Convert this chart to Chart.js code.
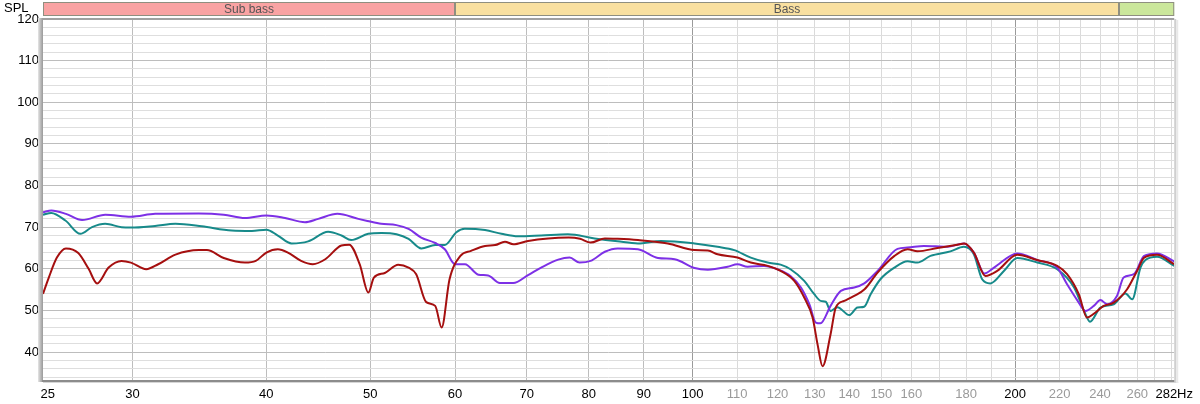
<!DOCTYPE html>
<html>
<head>
<meta charset="utf-8">
<script src="https://cdn.jsdelivr.net/npm/chart.js@4.4.1/dist/chart.umd.min.js"></script>
<style>
html,body{margin:0;padding:0;background:#fff;}
canvas{display:block;}
</style>
</head>
<body>
<canvas id="c" width="1200" height="404"></canvas>
<script>
// ---------- DATA ----------
const freqRed = [24.75,25.06,25.5,26.0,26.7,27.3,27.8,28.5,29.3,29.9,30.9,31.7,32.9,34.6,35.2,36.5,38.2,39.1,40.0,41.0,41.9,43.1,44.2,45.4,47.0,47.8,48.9,49.8,50.4,51.6,53.1,54.3,55.2,56.4,57.5,58.3,59.3,60.7,62.1,64.0,65.4,66.8,68.0,70.2,73.3,76.6,78.5,80.3,82.8,85.1,88.9,94.8,100.4,103.3,105.5,110.1,113.3,117.5,120.8,124.4,127.1,129.4,130.8,132.2,134.5,136.0,138.5,141.5,144.7,148.8,154.3,158.7,162.1,169.2,176.6,179.3,183.0,187.6,192.4,200.9,209.7,218.9,223.6,229.3,233.4,236.8,241.9,247.2,254.4,259.9,263.9,271.3,281.5];
const splRed  = [54.0,57.9,62.7,64.9,63.8,60.0,56.5,60.3,61.9,61.5,59.9,61.1,63.4,64.5,64.5,62.6,61.5,61.9,63.9,64.7,63.9,61.9,61.1,62.3,65.6,65.8,61.0,54.3,57.9,59.0,61.0,60.3,58.7,52.0,51.1,45.9,57.5,63.1,64.3,65.5,65.7,66.5,65.9,66.7,67.3,67.5,67.2,66.3,67.3,67.2,66.9,66.1,64.5,64.4,63.5,62.7,61.5,60.7,59.5,57.1,53.1,48.3,41.8,36.6,44.3,50.7,52.3,53.5,55.1,59.1,63.1,64.7,64.2,65.0,65.8,66.1,63.9,58.3,59.5,63.4,62.1,60.7,58.7,53.9,48.3,49.2,51.1,51.9,55.1,59.5,62.7,63.4,61.1];

const freqTeal = [24.75,25.19,25.97,26.82,27.5,28.29,29.3,29.9,31.49,32.9,34.82,37.13,38.77,40.0,41.0,42.23,43.76,45.68,47.01,48.0,49.79,51.24,52.91,54.3,55.81,57.5,58.68,60.18,61.27,64.0,66.3,68.7,72.2,76.47,81.0,85.1,88.9,93.42,100.4,105.5,109.36,113.3,117.5,120.8,123.4,127.1,129.86,131.69,133.1,134.53,136.49,140.0,142.5,144.56,146.6,149.7,154.3,158.7,162.1,166.7,174.0,179.1,183.0,186.3,189.6,195.2,200.9,209.7,218.9,227.0,231.9,234.9,240.2,247.2,253.5,257.2,261.8,264.6,271.3,281.5];
const splTeal  = [73.0,73.4,71.6,68.4,70.0,70.8,70.0,69.9,70.3,70.8,70.2,69.2,69.1,69.4,68.0,66.1,66.6,68.9,68.0,66.9,68.4,68.6,68.3,67.2,64.9,65.7,65.7,68.8,69.6,69.3,68.4,67.8,68.0,68.3,67.3,66.6,66.1,66.7,66.1,65.3,64.5,62.7,61.5,61.0,59.9,57.1,53.9,52.3,52.1,49.9,50.8,48.9,50.7,50.9,53.9,57.5,60.3,61.8,61.5,63.1,64.2,65.3,63.5,57.5,56.5,59.5,62.6,61.5,59.9,55.5,49.9,47.3,50.7,51.5,54.1,52.7,60.3,62.1,62.9,60.7];

const freqPurple = [24.75,25.2,26.0,26.92,28.3,29.9,31.5,34.6,36.5,38.2,40.0,41.64,43.46,44.72,46.6,48.74,49.7,51.2,52.9,54.3,55.8,57.5,58.7,60.01,61.3,63.1,64.43,66.07,68.0,70.2,72.2,74.9,76.76,78.43,80.3,82.8,85.1,88.9,92.8,96.2,100.4,103.3,107.8,110.1,112.5,116.6,120.0,123.4,126.2,128.5,130.3,131.6,134.5,137.5,141.5,144.6,148.8,155.3,158.7,164.4,172.9,179.1,183.0,187.2,191.1,200.9,209.7,218.9,223.6,228.5,232.6,236.8,240.2,243.7,248.9,252.5,258.1,263.9,271.3,281.5];
const splPurple  = [73.6,74.0,73.2,71.7,73.0,72.5,73.2,73.3,73.0,72.2,72.8,72.2,71.2,72.0,73.2,72.0,71.5,70.8,70.5,69.6,67.5,66.2,64.7,61.1,61.1,58.6,58.4,56.6,56.6,58.5,60.3,62.2,62.7,61.5,61.9,64.1,64.9,64.7,62.6,62.3,60.2,59.8,60.5,61.1,60.5,60.7,59.9,58.3,55.5,51.5,47.1,46.9,51.1,54.7,55.5,56.5,59.5,64.8,65.1,65.5,65.3,66.1,63.9,58.9,60.3,63.7,62.1,60.3,56.3,52.5,49.9,51.1,52.5,51.5,53.5,57.9,58.7,63.1,63.7,61.8];

// axis ticks
const xMin = 24.75, xMax = 281.5;
const xGridValues = [30,40,50,60,70,80,90,100,110,120,130,140,150,160,170,180,190,200,210,220,230,240,250,260,270,280];
const xLabelValues = [25,30,40,50,60,70,80,90,100,110,120,130,140,150,160,180,200,220,240,260,281.5];
const xLabelTexts  = ['25','30','40','50','60','70','80','90','100','110','120','130','140','150','160','180','200','220','240','260','282Hz'];
const xDarkLabels = [25,30,40,50,60,70,80,90,100,200,281.5];
const yLabelValues = [40,50,60,70,80,90,100,110,120];
const bands = [
  {from: 24.75, to: 60, label: 'Sub bass', color: '#f9a3a3'},
  {from: 60, to: 250, label: 'Bass', color: '#f9e0a0'},
  {from: 250, to: 281.5, label: '', color: '#cbe79b'}
];

// ---------- CHART ----------
const pts = (f, s) => f.map((x, i) => ({x: x, y: s[i]}));
const FONT = "'Liberation Sans', Arial, sans-serif";

const framePlugin = {
  id: 'frame',
  afterDraw(chart) {
    const ctx = chart.ctx, a = chart.chartArea, xs = chart.scales.x;
    ctx.save();
    const g = ctx.createLinearGradient(a.left - 5, 0, a.left, 0);
    g.addColorStop(0, '#e6e6e6'); g.addColorStop(0.6, '#b4b4b4'); g.addColorStop(1, '#9a9a9a');
    ctx.fillStyle = g;
    ctx.fillRect(a.left - 5, a.top - 1, 5, a.bottom - a.top + 3);
    ctx.fillStyle = '#a0a0a0';
    ctx.fillRect(a.left, a.top - 1, a.right - a.left, 2);
    ctx.fillStyle = '#8c8c8c';
    ctx.fillRect(a.left - 1, a.bottom, a.right - a.left + 2, 2);
    ctx.fillStyle = '#d6d6d6';
    ctx.fillRect(a.left, a.bottom + 2, a.right - a.left + 4, 1);
    ctx.fillStyle = '#cfcfcf';
    ctx.fillRect(a.right, a.top, 2, a.bottom - a.top + 2);
    ctx.fillStyle = '#e8e8e8';
    ctx.fillRect(a.right + 2, a.top + 1, 2, a.bottom - a.top + 2);
    const bt = 2, bh = 14;
    bands.forEach(b => {
      const x0 = Math.max(a.left, xs.getPixelForValue(b.from));
      const x1 = Math.min(a.right, xs.getPixelForValue(b.to));
      ctx.fillStyle = b.color;
      ctx.fillRect(x0, bt, x1 - x0, bh);
      ctx.strokeStyle = '#8f8f80';
      ctx.lineWidth = 1;
      ctx.strokeRect(x0 + 0.5, bt + 0.5, x1 - x0 - 1, bh - 1);
      if (b.label) {
        ctx.fillStyle = '#555555';
        ctx.font = '12px ' + FONT;
        ctx.textAlign = 'center';
        ctx.textBaseline = 'middle';
        ctx.fillText(b.label, (x0 + x1) / 2, bt + bh / 2 + 0.5);
      }
    });
    ctx.fillStyle = '#000';
    ctx.font = '13px ' + FONT;
    ctx.textAlign = 'left';
    ctx.textBaseline = 'middle';
    ctx.fillText('SPL', 4, 8);
    ctx.restore();
  }
};

new Chart(document.getElementById('c'), {
  type: 'line',
  data: {
    datasets: [
      {label: 'red', data: pts(freqRed, splRed), borderColor: '#a50f0f'},
      {label: 'purple', data: pts(freqPurple, splPurple), borderColor: '#7d30e6'},
      {label: 'teal', data: pts(freqTeal, splTeal), borderColor: '#178a8a'}
    ]
  },
  options: {
    responsive: false,
    animation: false,
    layout: {padding: {top: 19, right: 22, left: 0, bottom: 0}},
    elements: {
      line: {borderWidth: 2, cubicInterpolationMode: 'monotone', fill: false},
      point: {radius: 0, hoverRadius: 0}
    },
    plugins: {legend: {display: false}, tooltip: {enabled: false}},
    events: [],
    scales: {
      x: {
        type: 'logarithmic',
        min: xMin,
        max: xMax,
        afterBuildTicks(scale) {
          const vals = Array.from(new Set(xGridValues.concat(xLabelValues))).sort((p, q) => p - q);
          scale.ticks = vals.map(v => ({value: v}));
        },
        afterFit(scale) { scale.height = 24; },
        border: {display: false},
        grid: {
          drawTicks: false,
          color(ctx) {
            const v = ctx.tick && ctx.tick.value;
            if (v === 100 || v === 200) return '#9a9a9a';
            if (v === 25 || v === xMax) return 'rgba(0,0,0,0)';
            if (v < 100) return '#bdbdbd';
            return '#dadada';
          },
          lineWidth: 1
        },
        ticks: {
          autoSkip: false,
          maxRotation: 0,
          padding: 7,
          font: {family: FONT, size: 13},
          color(ctx) {
            const v = ctx.tick && ctx.tick.value;
            return xDarkLabels.includes(v) ? '#000000' : '#9a9a9a';
          },
          callback(value) {
            const i = xLabelValues.indexOf(value);
            return i < 0 ? '' : xLabelTexts[i];
          }
        }
      },
      y: {
        type: 'linear',
        min: 33.3,
        max: 120,
        afterBuildTicks(scale) {
          const t = [];
          for (let v = 34; v <= 120; v += 2) t.push({value: v});
          scale.ticks = t;
        },
        afterFit(scale) { scale.width = 43; },
        border: {display: false},
        grid: {
          drawTicks: false,
          color(ctx) {
            const v = ctx.tick && ctx.tick.value;
            return (v % 10 === 0) ? '#bdbdbd' : '#dedede';
          }
        },
        ticks: {
          autoSkip: false,
          padding: 4,
          font: {family: FONT, size: 13},
          color: '#000',
          callback(value) { return yLabelValues.includes(value) ? String(value) : ''; }
        }
      }
    }
  },
  plugins: [framePlugin]
});
</script>
</body>
</html>
